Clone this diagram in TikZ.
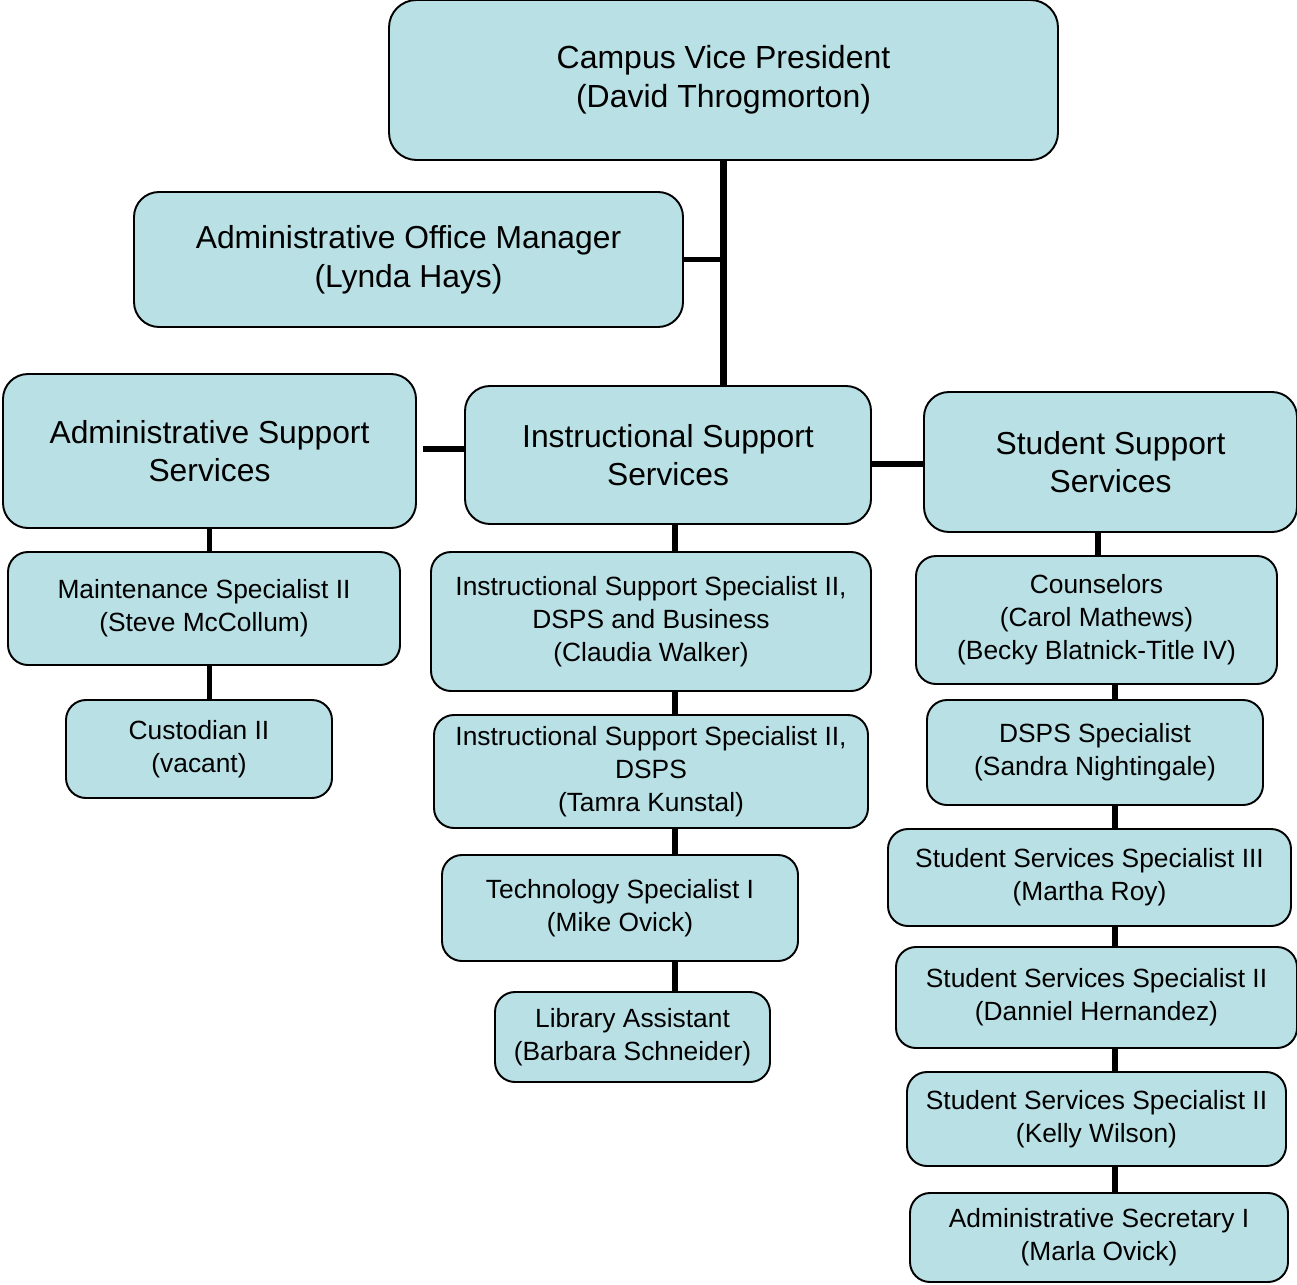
\documentclass[tikz,border=0pt]{standalone}
\usepackage{fontspec}
\setmainfont{Liberation Sans}
\definecolor{boxfill}{RGB}{185,224,228}
\tikzset{
  x=0.02cm, y=-0.02cm,
  orgbase/.style={draw=black, line width=1.1pt, fill=boxfill, inner sep=0pt,
    align=center, text=black},
  bigbox/.style={orgbase, rounded corners=0.5cm,
    font=\fontsize{18.1pt}{22pt}\selectfont},
  topbox/.style={orgbase, rounded corners=0.55cm,
    font=\fontsize{18.2pt}{22.2pt}\selectfont},
  smallbox/.style={orgbase, rounded corners=0.4cm,
    font=\fontsize{15pt}{18.8pt}\selectfont},
  link/.style={draw=black, line width=3.4pt, line cap=butt},
  mainlink/.style={draw=black, line width=4.5pt, line cap=butt},
}
% #1 style, #2 name, #3 left, #4 top, #5 right, #6 bottom, #7 text
\newcommand\orgbox[7]{%
  \node[#1, minimum width={(#5-#3)*0.02cm}, minimum height={(#6-#4)*0.02cm}]
    (#2) at ({(#3+#5)/2},{(#4+#6)/2}) {#7};}
\begin{document}
\begin{tikzpicture}
\useasboundingbox (0,0) rectangle (1297,1284);

% top level
\orgbox{topbox}{cvp}{389}{0}{1058}{160}{Campus Vice President\\(David Throgmorton)}
\orgbox{bigbox}{aom}{134}{192}{683}{327}{Administrative Office Manager\\(Lynda Hays)}

% divisions
\orgbox{bigbox}{ass}{3}{374}{416}{528}{Administrative Support\\Services}
\orgbox{bigbox}{iss}{465}{386}{871}{524}{Instructional Support\\Services}
\orgbox{bigbox}{sss}{924}{392}{1297}{532}{Student Support\\Services}

% administrative support staff
\orgbox{smallbox}{maint}{8}{552}{400}{665}{Maintenance Specialist II\\(Steve McCollum)}
\orgbox{smallbox}{cust}{66}{700}{332}{798}{Custodian II\\(vacant)}

% instructional support staff
\orgbox{smallbox}{issa}{431}{552}{871}{691}{Instructional Support Specialist II,\\DSPS and Business\\(Claudia Walker)}
\orgbox{smallbox}{issb}{434}{715}{868}{828}{Instructional Support Specialist II,\\DSPS\\(Tamra Kunstal)}
\orgbox{smallbox}{tech}{442}{855}{798}{961}{Technology Specialist I\\(Mike Ovick)}
\orgbox{smallbox}{lib}{495}{992}{770}{1082}{Library Assistant\\(Barbara Schneider)}

% student support staff
\orgbox{smallbox}{couns}{916}{556}{1277}{684}{Counselors\\(Carol Mathews)\\(Becky Blatnick-Title IV)}
\orgbox{smallbox}{dsps}{927}{700}{1263}{805}{DSPS Specialist\\(Sandra Nightingale)}
\orgbox{smallbox}{sssc}{888}{829}{1291}{926}{Student Services Specialist III\\(Martha Roy)}
\orgbox{smallbox}{sssa}{896}{947}{1297}{1048}{Student Services Specialist II\\(Danniel Hernandez)}
\orgbox{smallbox}{sssb}{907}{1072}{1286}{1166}{Student Services Specialist II\\(Kelly Wilson)}
\orgbox{smallbox}{asec}{910}{1193}{1288}{1282}{Administrative Secretary I\\(Marla Ovick)}

% column positions of the vertical connectors
\coordinate (spine) at (723.5,0);
\coordinate (colA) at (209.5,0);
\coordinate (colI) at (675,0);
\coordinate (colS) at (1098,0);
\coordinate (colT) at (1115.3,0);
\coordinate (rowA) at (0,449);
\coordinate (rowS) at (0,464);
\coordinate (rowM) at (0,259.5);
\coordinate (gapA) at (423,449);

% main spine and its branches
\draw[mainlink] (spine |- cvp.south) -- (spine |- iss.north);
\draw[line width=3.1pt, line cap=butt] (aom.east |- rowM) -- (spine |- rowM);
\draw[link] (gapA) -- (iss.west |- rowA);
\draw[link, line width=3.9pt] (iss.east |- rowS) -- (sss.west |- rowS);

% administrative column
\draw[link] (colA |- ass.south) -- (colA |- maint.north);
\draw[link] (colA |- maint.south) -- (colA |- cust.north);

% instructional column
\draw[link] (colI |- iss.south) -- (colI |- issa.north);
\draw[link] (colI |- issa.south) -- (colI |- issb.north);
\draw[link] (colI |- issb.south) -- (colI |- tech.north);
\draw[link] (colI |- tech.south) -- (colI |- lib.north);

% student column
\draw[link] (colS |- sss.south) -- (colS |- couns.north);
\draw[link] (colT |- couns.south) -- (colT |- dsps.north);
\draw[link] (colT |- dsps.south) -- (colT |- sssc.north);
\draw[link] (colT |- sssc.south) -- (colT |- sssa.north);
\draw[link] (colT |- sssa.south) -- (colT |- sssb.north);
\draw[link] (colT |- sssb.south) -- (colT |- asec.north);
\end{tikzpicture}
\end{document}
